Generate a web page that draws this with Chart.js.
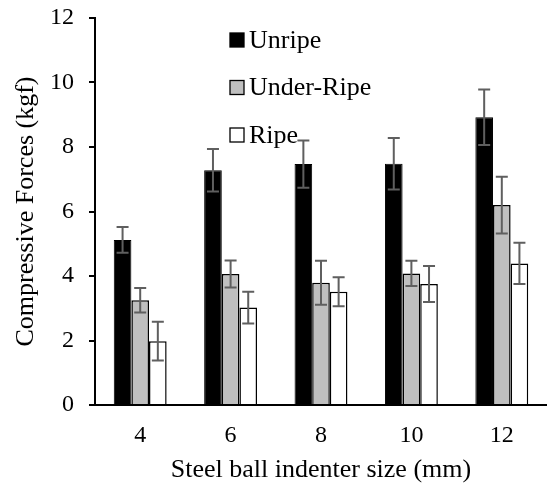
<!DOCTYPE html>
<html lang="en">
<head>
<meta charset="UTF-8">
<title>chart</title>
<style>
  html, body { margin: 0; padding: 0; background: #fff; }
  #wrap { width: 547px; height: 488px; }
</style>
</head>
<body>
<div id="wrap"><canvas id="myChart" width="547" height="488"></canvas></div>
<script src="https://cdn.jsdelivr.net/npm/chart.js"></script>
<script>
const sizes = ['4', '6', '8', '10', '12']
const seriesNames = ['Unripe', 'Under-Ripe', 'Ripe']
const unripe = [5.12, 7.28, 7.47, 7.48, 8.92]
const underRipe = [3.25, 4.06, 3.79, 4.08, 6.2]
const ripe = [1.98, 3.02, 3.51, 3.75, 4.39]
const unripeErr = [0.4, 0.66, 0.73, 0.8, 0.86]
const underRipeErr = [0.38, 0.42, 0.68, 0.39, 0.88]
const ripeErr = [0.6, 0.49, 0.45, 0.56, 0.64]
const yTicks = [0, 2, 4, 6, 8, 10, 12]

const font = 'Liberation Serif'

// error bars drawn from the y scale
const errorBars = {
  id: 'errorBars',
  afterDatasetsDraw(chart) {
    const ctx = chart.ctx
    const y = chart.scales.y
    ctx.save()
    ctx.strokeStyle = '#5f5f5f'
    ctx.lineWidth = 2
    chart.data.datasets.forEach((ds, i) => {
      const meta = chart.getDatasetMeta(i)
      meta.data.forEach((bar, j) => {
        const v = ds.data[j], e = ds.err[j]
        const top = y.getPixelForValue(v + e)
        const bot = y.getPixelForValue(v - e)
        ctx.beginPath()
        ctx.moveTo(bar.x, top); ctx.lineTo(bar.x, bot)
        ctx.moveTo(bar.x - 6, top); ctx.lineTo(bar.x + 6, top)
        ctx.moveTo(bar.x - 6, bot); ctx.lineTo(bar.x + 6, bot)
        ctx.stroke()
      })
    })
    ctx.restore()
  }
}

// legend inside the plot, stacked
const innerLegend = {
  id: 'innerLegend',
  afterDraw(chart) {
    const ctx = chart.ctx
    ctx.save()
    ctx.font = '26px "' + font + '"'
    ctx.textBaseline = 'middle'
    chart.data.datasets.forEach((ds, i) => {
      const x = 230, yy = 40 + i * 47.5
      ctx.fillStyle = ds.backgroundColor
      ctx.fillRect(x, yy - 7, 14, 14)
      ctx.strokeStyle = '#000'
      ctx.lineWidth = 1.3
      ctx.strokeRect(x, yy - 7, 14, 14)
      ctx.fillStyle = '#000'
      ctx.fillText(ds.label, x + 19, yy + 1)
    })
    ctx.restore()
  }
}

new Chart(document.getElementById('myChart'), {
  type: 'bar',
  data: {
    labels: sizes,
    datasets: [
      { label: seriesNames[0], data: unripe, err: unripeErr, backgroundColor: '#000000', borderColor: '#000', borderWidth: 1 },
      { label: seriesNames[1], data: underRipe, err: underRipeErr, backgroundColor: '#bfbfbf', borderColor: '#000', borderWidth: 1.5 },
      { label: seriesNames[2], data: ripe, err: ripeErr, backgroundColor: '#ffffff', borderColor: '#000', borderWidth: 1.5 }
    ]
  },
  options: {
    responsive: false,
    animation: false,
    layout: { padding: { top: 18, right: -4, left: 0, bottom: 0 } },
    datasets: { bar: { categoryPercentage: 0.585, barPercentage: 1 } },
    plugins: { legend: { display: false }, tooltip: { enabled: false } },
    scales: {
      x: {
        afterFit(s) { s.height = 83; s.paddingRight = 0 },
        grid: { display: false },
        border: { display: true, color: '#000', width: 2 },
        ticks: { color: '#000', font: { family: font, size: 24 }, padding: 8 },
        title: { display: true, text: 'Steel ball indenter size (mm)', color: '#000', font: { family: font, size: 26 }, padding: { top: 4, bottom: 2 } }
      },
      y: {
        min: 0, max: 12,
        afterFit(s) { s.width = 95; s.paddingTop = 0 },
        afterBuildTicks(s) { s.ticks = yTicks.map(v => ({ value: v })) },
        grid: { drawOnChartArea: false, drawTicks: true, tickLength: 6, color: '#000', lineWidth: 2 },
        border: { display: true, color: '#000', width: 2 },
        ticks: { color: '#000', font: { family: font, size: 24 }, padding: 15 },
        title: { display: true, text: 'Compressive Forces (kgf)', color: '#000', font: { family: font, size: 26 }, padding: { top: 11, bottom: 0 } }
      }
    }
  },
  plugins: [errorBars, innerLegend]
})
</script>
</body>
</html>
